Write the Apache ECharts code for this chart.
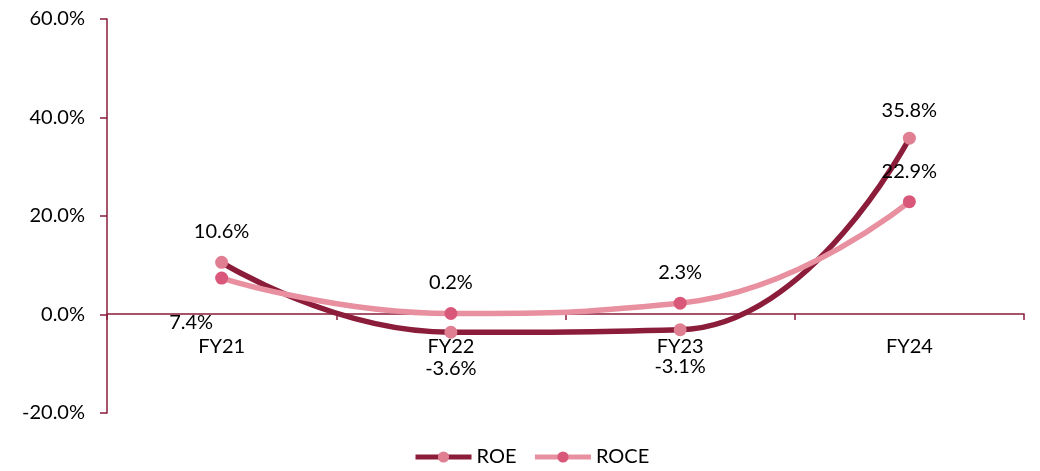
<!DOCTYPE html>
<html><head><meta charset="utf-8">
<script src="https://cdn.jsdelivr.net/npm/echarts@6/dist/echarts.min.js"></script>
<style>html,body{margin:0;padding:0;background:#fff}#c{width:1040px;height:471px}</style>
</head><body><div id="c"></div>
<script>
const categories = ['FY21','FY22','FY23','FY24'];
const roe = [10.6, -3.6, -3.1, 35.8];
const roce = [7.4, 0.2, 2.3, 22.9];
const yTicks = [-20, 0, 20, 40, 60];

const font = 'Lato, "Open Sans", sans-serif';
const FS = 20;
const roeLabel = [
  {position: 'top', distance: 14},
  {position: 'bottom', distance: 20},
  {position: 'bottom', distance: 20},
  {position: 'top', distance: 11}
];
const roceLabel = [
  {position: 'left', distance: 5, offset: [3, 44]},
  {position: 'top', distance: 14},
  {position: 'top', distance: 14},
  {position: 'top', distance: 14}
];

const chart = echarts.init(document.getElementById('c'));
chart.setOption({
  animation: false,
  textStyle: {fontFamily: font},
  grid: {left: 107, right: 16, top: 19, bottom: 58},
  legend: {
    bottom: 4, left: 413, padding: 0, itemWidth: 56, itemHeight: 14, itemGap: 16,
    textStyle: {fontSize: FS, color: '#000', fontFamily: font},
    lineStyle: {width: 5},
    data: ['ROE','ROCE']
  },
  xAxis: {
    type: 'category', data: categories, boundaryGap: true,
    offset: -99,
    axisLine: {onZero: false, lineStyle: {color: '#8B1C3A', width: 1.5}},
    axisTick: {show: true, length: 6, lineStyle: {color: '#8B1C3A', width: 1.5}},
    axisLabel: {fontSize: FS, color: '#000', margin: 23, fontFamily: font}
  },
  yAxis: {
    type: 'value', min: yTicks[0], max: yTicks[yTicks.length-1], interval: 20,
    axisLine: {show: true, lineStyle: {color: '#8B1C3A', width: 1.5}},
    axisTick: {show: true, length: 7, lineStyle: {color: '#8B1C3A', width: 1.5}},
    splitLine: {show: false},
    axisLabel: {fontSize: FS, color: '#000', margin: 22, fontFamily: font,
      formatter: v => v.toFixed(1) + '%'}
  },
  series: [
    {
      name: 'ROE', type: 'line', smooth: 0.5, symbol: 'circle', symbolSize: 13,
      lineStyle: {color: '#8B1C3A', width: 5.5},
      itemStyle: {color: '#E07E92'},
      data: roe.map((v,i) => ({value: v, label: roeLabel[i]})),
      label: {show: true, fontSize: FS, color: '#000', fontFamily: font,
        formatter: p => p.value.toFixed(1) + '%'},
      z: 2
    },
    {
      name: 'ROCE', type: 'line', smooth: 0.5, symbol: 'circle', symbolSize: 13,
      lineStyle: {color: '#E8909F', width: 5.5},
      itemStyle: {color: '#D9587A'},
      data: roce.map((v,i) => ({value: v, label: roceLabel[i]})),
      label: {show: true, fontSize: FS, color: '#000', fontFamily: font,
        formatter: p => p.value.toFixed(1) + '%'},
      z: 3
    }
  ]
});
</script></body></html>
